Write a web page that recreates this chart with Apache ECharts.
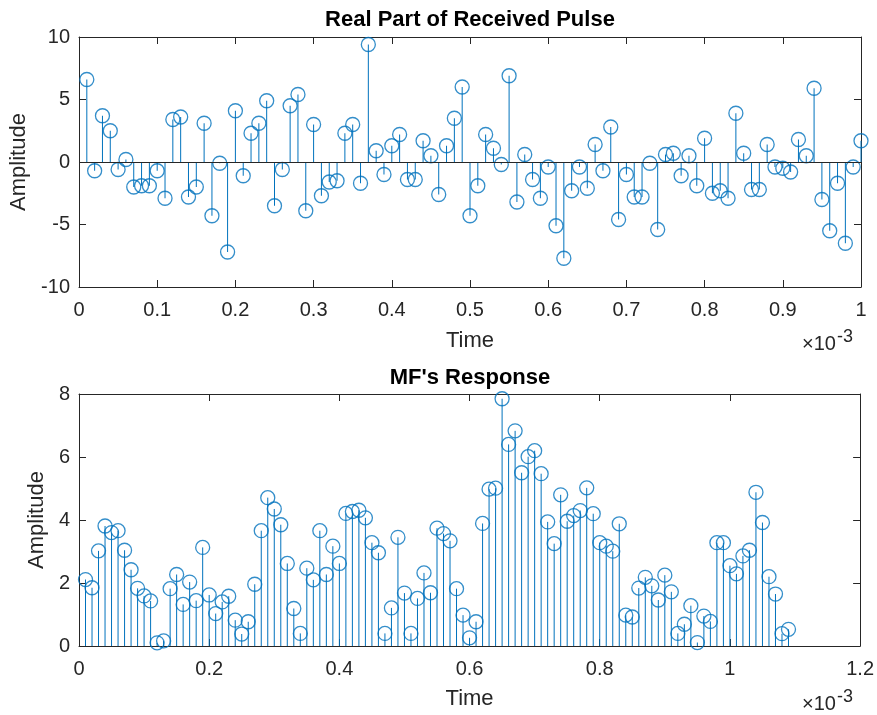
<!DOCTYPE html>
<html>
<head>
<meta charset="utf-8">
<script src="https://cdn.jsdelivr.net/npm/echarts@6/dist/echarts.min.js"></script>
<style>
  html, body { margin: 0; padding: 0; background: #ffffff; }
  #chart { width: 877px; height: 715px; }
</style>
</head>
<body>
<div id="chart"></div>
<script>
// ---------- data ----------
const titleTop = "Real Part of Received Pulse";
const titleBottom = "MF's Response";
const xLabel = "Time";
const yLabel = "Amplitude";
const sampleStep = 0.01; // time step in units of 1e-3 s

// Real part of the received pulse (samples at 0.01 ... 1.00 x1e-3)
const pulseReal = [
  6.6, -0.7, 3.7, 2.5, -0.6, 0.2, -2.0, -1.9, -1.9, -0.7,
  -2.9, 3.4, 3.6, -2.8, -2.0, 3.1, -4.3, -0.1, -7.2, 4.1,
  -1.1, 2.3, 3.1, 4.9, -3.5, -0.6, 4.5, 5.4, -3.9, 3.0,
  -2.7, -1.6, -1.5, 2.3, 3.0, -1.7, 9.4, 0.9, -1.0, 1.3,
  2.2, -1.4, -1.4, 1.7, 0.5, -2.6, 1.3, 3.5, 6.0, -4.3,
  -1.9, 2.2, 1.1, -0.2, 6.9, -3.2, 0.6, -1.4, -2.9, -0.4,
  -5.1, -7.7, -2.3, -0.4, -2.1, 1.4, -0.7, 2.8, -4.6, -1.0,
  -2.8, -2.8, -0.1, -5.4, 0.6, 0.7, -1.1, 0.5, -1.9, 1.9,
  -2.5, -2.3, -2.9, 3.9, 0.7, -2.2, -2.2, 1.4, -0.4, -0.5,
  -0.8, 1.8, 0.5, 5.9, -3.0, -5.5, -1.7, -6.5, -0.4, 1.7
];

// Matched filter response magnitude (samples at 0.01 ... 1.09 x1e-3)
const mfResponse = [
  2.11, 1.85, 3.02, 3.81, 3.60, 3.66, 3.04, 2.42, 1.83, 1.59,
  1.43, 0.10, 0.16, 1.82, 2.27, 1.32, 2.03, 1.44, 3.13, 1.62,
  1.03, 1.40, 1.58, 0.82, 0.38, 0.77, 1.96, 3.66, 4.71, 4.35,
  3.85, 2.62, 1.19, 0.40, 2.47, 2.10, 3.66, 2.27, 3.17, 2.62,
  4.21, 4.27, 4.31, 4.07, 3.28, 2.96, 0.40, 1.21, 3.45, 1.68,
  0.40, 1.51, 2.32, 1.69, 3.74, 3.57, 3.34, 1.82, 0.98, 0.26,
  0.77, 3.89, 4.98, 5.01, 7.85, 6.40, 6.83, 5.50, 6.01, 6.20,
  5.47, 3.94, 3.25, 4.80, 3.96, 4.14, 4.30, 5.02, 4.20, 3.28,
  3.17, 3.01, 3.88, 0.98, 0.92, 1.84, 2.18, 1.91, 1.46, 2.25,
  1.72, 0.40, 0.69, 1.28, 0.11, 0.95, 0.78, 3.28, 3.28, 2.55,
  2.29, 2.86, 3.04, 4.88, 3.92, 2.20, 1.65, 0.39, 0.53
];

// axis ranges / ticks
const topX = { min: 0, max: 1, interval: 0.1 };
const topY = { min: -10, max: 10, interval: 5 };
const botX = { min: 0, max: 1.2, interval: 0.2 };
const botY = { min: 0, max: 8, interval: 2 };

// ---------- build ----------
const toPairs = arr => arr.map((v, i) => [+(sampleStep * (i + 1)).toFixed(4), v]);
const topData = toPairs(pulseReal);
const botData = toPairs(mfResponse);

const FONT = "'Liberation Sans', Arial, Helvetica, sans-serif";
const AX = '#262626';
const BLUE = '#0072BD';
const fmt = v => String(+v.toFixed(2));

function xAxisMain(grid, r, gap) {
  return {
    gridIndex: grid, type: 'value', position: 'bottom',
    min: r.min, max: r.max, interval: r.interval,
    axisLine: { show: true, onZero: false, lineStyle: { color: AX, width: 1 } },
    axisTick: { show: true, inside: true, length: 7, lineStyle: { color: AX, width: 1 } },
    axisLabel: { fontSize: 20, color: AX, fontFamily: FONT, margin: 13, formatter: fmt },
    splitLine: { show: false },
    name: xLabel, nameLocation: 'middle', nameGap: gap,
    nameTextStyle: { fontSize: 22, color: AX, fontFamily: FONT }
  };
}
function xAxisBox(grid, r) {
  return {
    gridIndex: grid, type: 'value', position: 'top',
    min: r.min, max: r.max, interval: r.interval,
    axisLine: { show: true, onZero: false, lineStyle: { color: AX, width: 1 } },
    axisTick: { show: true, inside: true, length: 7, lineStyle: { color: AX, width: 1 } },
    axisLabel: { show: false }, splitLine: { show: false }
  };
}
function yAxisMain(grid, r, gap) {
  return {
    gridIndex: grid, type: 'value', position: 'left',
    min: r.min, max: r.max, interval: r.interval,
    axisLine: { show: true, onZero: false, lineStyle: { color: AX, width: 1 } },
    axisTick: { show: true, inside: true, length: 7, lineStyle: { color: AX, width: 1 } },
    axisLabel: { fontSize: 20, color: AX, fontFamily: FONT, margin: 9, formatter: fmt },
    splitLine: { show: false },
    name: yLabel, nameLocation: 'middle', nameGap: gap, nameRotate: 90,
    nameTextStyle: { fontSize: 22, color: AX, fontFamily: FONT }
  };
}
function yAxisBox(grid, r) {
  return {
    gridIndex: grid, type: 'value', position: 'right',
    min: r.min, max: r.max, interval: r.interval,
    axisLine: { show: true, onZero: false, lineStyle: { color: AX, width: 1 } },
    axisTick: { show: true, inside: true, length: 7, lineStyle: { color: AX, width: 1 } },
    axisLabel: { show: false }, splitLine: { show: false }
  };
}

function stemSeries(xi, yi, data, baseline) {
  const s = {
    type: 'custom', xAxisIndex: xi, yAxisIndex: yi, data: data,
    encode: { x: 0, y: 1 }, silent: true, z: 2,
    renderItem: (params, api) => {
      const p0 = api.coord([api.value(0), 0]);
      const p1 = api.coord([api.value(0), api.value(1)]);
      return {
        type: 'line',
        shape: { x1: p0[0], y1: p0[1], x2: p1[0], y2: p1[1] },
        style: { stroke: BLUE, lineWidth: 1 }
      };
    }
  };
  if (baseline) {
    s.markLine = {
      silent: true, symbol: ['none', 'none'], label: { show: false },
      lineStyle: { color: AX, width: 1, type: 'solid' },
      data: [{ yAxis: 0 }], animation: false
    };
  }
  return s;
}
function markerSeries(xi, yi, data) {
  return {
    type: 'scatter', xAxisIndex: xi, yAxisIndex: yi, data: data,
    symbol: 'circle', symbolSize: 14, silent: true, z: 3,
    itemStyle: { color: 'rgba(0,0,0,0)', borderColor: BLUE, borderWidth: 1.3 }
  };
}

const chart = echarts.init(document.getElementById('chart'), null, { renderer: 'canvas' });
chart.setOption({
  animation: false,
  backgroundColor: '#ffffff',
  grid: [
    { left: 79, right: 16, top: 37, height: 250 },
    { left: 79, right: 16, top: 394, height: 252 }
  ],
  xAxis: [xAxisMain(0, topX, 43), xAxisMain(1, botX, 42), xAxisBox(0, topX), xAxisBox(1, botX)],
  yAxis: [yAxisMain(0, topY, 43), yAxisMain(1, botY, 25), yAxisBox(0, topY), yAxisBox(1, botY)],
  series: [
    stemSeries(0, 0, topData, true),
    markerSeries(0, 0, topData),
    stemSeries(1, 1, botData, false),
    markerSeries(1, 1, botData)
  ],
  graphic: [
    { type: 'text', x: 470, y: 20, style: { text: titleTop, font: "bold 22px " + FONT, fill: '#000', align: 'center', verticalAlign: 'middle' } },
    { type: 'text', x: 470, y: 378, style: { text: titleBottom, font: "bold 22px " + FONT, fill: '#000', align: 'center', verticalAlign: 'middle' } },
    { type: 'text', x: 802, y: 354, style: { text: '\u00d710', font: "20px " + FONT, fill: AX, align: 'left', verticalAlign: 'bottom' } },
    { type: 'text', x: 837, y: 346, style: { text: '-3', font: "18px " + FONT, fill: AX, align: 'left', verticalAlign: 'bottom' } },
    { type: 'text', x: 802, y: 714, style: { text: '\u00d710', font: "20px " + FONT, fill: AX, align: 'left', verticalAlign: 'bottom' } },
    { type: 'text', x: 837, y: 706, style: { text: '-3', font: "18px " + FONT, fill: AX, align: 'left', verticalAlign: 'bottom' } }
  ]
});
</script>
</body>
</html>
